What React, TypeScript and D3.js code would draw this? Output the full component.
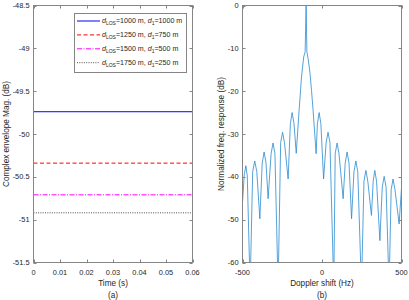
import React, { useEffect, useRef } from 'react';
import * as d3 from 'd3';

const W = 409, H = 300;

// (a) complex envelope magnitude vs time
const TIME_S = [0, 0.06];
const LOS_M = [1000, 1250, 1500, 1750];
const D1_M = [1000, 750, 500, 250];
const ENVELOPE_DB = [-49.74, -50.34, -50.71, -50.92];
const SERIES_COLORS = ['#0000ff', '#ff0000', '#ff00ff', '#222222'];
const SERIES_DASH = ['none', '4,2.5', '5,1.5,1,1.5', '1,1.3'];
const TIME_TICKS = [0, 0.01, 0.02, 0.03, 0.04, 0.05, 0.06];
const MAG_TICKS = [-51.5, -51, -50.5, -50, -49.5, -49, -48.5];

// (b) normalized frequency response vs doppler shift
const DOPPLER_HZ = [
  -500, -489, -479, -470, -452, -436, -423, -410, -391, -376, -364, -352, -339,
  -320, -308, -296, -276, -260, -248, -236, -213, -199, -188, -176, -162,
  -144, -129, -115, -106, -100, -95, -87, -76, -66, -56, -37,
  -29, -18, -7, 10, 26, 38, 50, 74, 83, 95, 107, 133, 146, 158, 170, 186,
  201, 213, 225, 248, 264, 276, 288, 311, 322, 332, 343, 364, 379, 391, 403,
  422, 435, 447, 459, 485, 500,
];
const RESPONSE_DB = [
  -46.0, -39.5, -37.4, -39.8, -66, -38.8, -36.3, -38.8, -49.8, -36.8, -34.2, -36.8, -45.1,
  -34.6, -32.1, -34.6, -66, -32.0, -29.6, -32.0, -40.5, -27.6, -25.0, -27.6, -34.5,
  -24.5, -16.7, -12.0, -10.8, 0, -10.8, -12.5, -15.6, -19.8, -24.5, -34.6,
  -27.6, -25.0, -27.6, -40.5, -32.0, -29.6, -32.0, -66, -34.6, -32.1, -34.6, -45.1, -36.8, -34.2, -36.8, -49.8,
  -38.8, -36.3, -38.8, -66, -41.0, -38.5, -41.0, -49.0, -41.0, -38.5, -41.0, -54.9, -42.4, -39.9, -42.4,
  -66, -43.0, -40.5, -43.0, -51.0, -42.6,
];
const DOPPLER_TICKS = [-500, 0, 500];
const RESPONSE_TICKS = [-60, -50, -40, -30, -20, -10, 0];

const AXIS = '#858585';
const TEXT = '#262626';
const FONT = "'Liberation Sans', Arial, sans-serif";

function drawFrame(g, x, y, xTicks, yTicks, xFmt, yFmt) {
  const [x0, x1] = x.range();
  const [y0, y1] = y.range();
  const tk = 3;
  g.append('rect').attr('x', x0).attr('y', y1).attr('width', x1 - x0).attr('height', y0 - y1)
    .attr('fill', 'none').attr('stroke', AXIS).attr('stroke-width', 1);
  xTicks.forEach(t => {
    const px = Math.round(x(t)) + 0.5;
    g.append('line').attr('x1', px).attr('x2', px).attr('y1', y0).attr('y2', y0 - tk).attr('stroke', AXIS);
    g.append('line').attr('x1', px).attr('x2', px).attr('y1', y1).attr('y2', y1 + tk).attr('stroke', AXIS);
    g.append('text').attr('x', x(t)).attr('y', y0 + 12).attr('text-anchor', 'middle')
      .attr('font-size', '7.4px').attr('fill', TEXT).text(xFmt(t));
  });
  yTicks.forEach(t => {
    const py = Math.round(y(t)) + 0.5;
    g.append('line').attr('x1', x0).attr('x2', x0 + tk).attr('y1', py).attr('y2', py).attr('stroke', AXIS);
    g.append('line').attr('x1', x1).attr('x2', x1 - tk).attr('y1', py).attr('y2', py).attr('stroke', AXIS);
    g.append('text').attr('x', x0 - 4).attr('y', y(t) + 2.6).attr('text-anchor', 'end')
      .attr('font-size', '7.4px').attr('fill', TEXT).text(yFmt(t));
  });
}

function Charts() {
  const ref = useRef(null);

  useEffect(() => {
    const svg = d3.select(ref.current);
    svg.selectAll('*').remove();
    svg.attr('font-family', FONT);

    const defs = svg.append('defs');

    // ---- left panel
    const xa = d3.scaleLinear().domain([0, 0.06]).range([33.5, 192.5]);
    const ya = d3.scaleLinear().domain([-51.5, -48.5]).range([262.5, 5.5]);
    const ga = svg.append('g');

    const line = d3.line().x(d => xa(d[0])).y(d => ya(d[1]));
    ENVELOPE_DB.forEach((v, i) => {
      ga.append('path').datum(TIME_S.map(t => [t, v]))
        .attr('fill', 'none').attr('stroke', SERIES_COLORS[i]).attr('stroke-width', i === 3 ? 0.8 : 1)
        .attr('stroke-dasharray', SERIES_DASH[i]).attr('d', line);
    });
    drawFrame(ga, xa, ya, TIME_TICKS, MAG_TICKS, d => d === 0 ? '0' : d3.format('.2f')(d), d => d3.format('')(d).replace('\u2212', '-'));

    // legend
    const lg = ga.append('g');
    lg.append('rect').attr('x', 74.5).attr('y', 13.5).attr('width', 112).attr('height', 59)
      .attr('fill', '#fff').attr('stroke', AXIS);
    LOS_M.forEach((los, i) => {
      const cy = 21 + i * 13.9;
      lg.append('line').attr('x1', 77).attr('x2', 100).attr('y1', cy).attr('y2', cy)
        .attr('stroke', SERIES_COLORS[i]).attr('stroke-width', i === 3 ? 0.8 : 1).attr('stroke-dasharray', SERIES_DASH[i]);
      const tx = lg.append('text').attr('x', 102).attr('y', cy + 2.4).attr('font-size', '7.1px').attr('fill', TEXT);
      tx.append('tspan').attr('font-style', 'italic').text('d');
      tx.append('tspan').attr('font-size', '5px').attr('dy', 1.8).text('LOS');
      tx.append('tspan').attr('dy', -1.8).text(`=${los} m, `);
      tx.append('tspan').attr('font-style', 'italic').text('d');
      tx.append('tspan').attr('font-size', '5px').attr('dy', 1.8).text('1');
      tx.append('tspan').attr('dy', -1.8).text(`=${D1_M[i]} m`);
    });

    ga.append('text').attr('x', 113).attr('y', 286).attr('text-anchor', 'middle')
      .attr('font-size', '8.2px').attr('fill', TEXT).text('Time (s)');
    ga.append('text').attr('x', 113).attr('y', 297.5).attr('text-anchor', 'middle')
      .attr('font-size', '8.2px').attr('fill', TEXT).text('(a)');
    ga.append('text').attr('transform', 'translate(9,134) rotate(-90)').attr('text-anchor', 'middle')
      .attr('font-size', '8.2px').attr('fill', TEXT).text('Complex envelope Mag. (dB)');

    // ---- right panel
    const xb = d3.scaleLinear().domain([-500, 500]).range([242.5, 401.5]);
    const yb = d3.scaleLinear().domain([-60, 0]).range([262.5, 5.5]);
    const gb = svg.append('g');
    defs.append('clipPath').attr('id', 'clip-b').append('rect')
      .attr('x', 242.5).attr('y', 4).attr('width', 159).attr('height', 258.5);
    const pts = DOPPLER_HZ.map((f, i) => [f, RESPONSE_DB[i]]);
    gb.append('path').datum(pts).attr('clip-path', 'url(#clip-b)')
      .attr('fill', 'none').attr('stroke', '#2a8ad0').attr('stroke-width', 0.8)
      .attr('stroke-linejoin', 'round')
      .attr('d', d3.line().x(d => xb(d[0])).y(d => yb(d[1])));
    drawFrame(gb, xb, yb, DOPPLER_TICKS, RESPONSE_TICKS, d => String(d), d => String(d));

    gb.append('text').attr('x', 322).attr('y', 286).attr('text-anchor', 'middle')
      .attr('font-size', '8.2px').attr('fill', TEXT).text('Doppler shift (Hz)');
    gb.append('text').attr('x', 322).attr('y', 297.5).attr('text-anchor', 'middle')
      .attr('font-size', '8.2px').attr('fill', TEXT).text('(b)');
    gb.append('text').attr('transform', 'translate(224,134) rotate(-90)').attr('text-anchor', 'middle')
      .attr('font-size', '8.2px').attr('fill', TEXT).text('Normalized freq. response (dB)');
  }, []);

  return <svg ref={ref} width={W} height={H} viewBox={`0 0 ${W} ${H}`} style={{ position: 'absolute', left: 0, top: 0, background: '#fff' }} />;
}

export default function App() {
  return <Charts />;
}
